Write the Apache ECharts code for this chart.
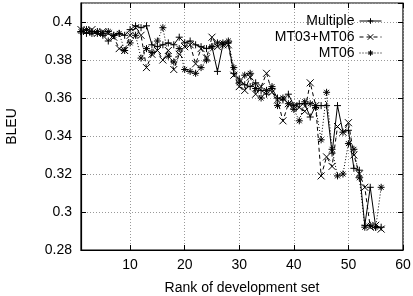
<!DOCTYPE html>
<html>
<head>
<meta charset="utf-8">
<script src="https://cdn.jsdelivr.net/npm/echarts@6/dist/echarts.min.js"></script>
<style>html,body{margin:0;padding:0;background:#fff}#c{width:413px;height:296px}</style>
</head>
<body>
<div id="c"></div>
<script>
const ranks = Array.from({length: 56}, (_, i) => i + 1);
const xTicks = [10, 20, 30, 40, 50, 60];
const seriesNames = ['Multiple', 'MT03+MT06', 'MT06'];
const multiple = [0.395,0.394,0.395,0.394,0.393,0.390,0.393,0.394,0.393,0.396,
  0.398,0.397,0.398,0.388,0.387,0.388,0.389,0.388,0.392,0.389,
  0.390,0.388,0.387,0.386,0.387,0.374,0.388,0.389,0.373,0.370,
  0.367,0.366,0.368,0.364,0.362,0.365,0.360,0.359,0.362,0.356,
  0.357,0.357,0.350,0.356,0.356,0.356,0.331,0.356,0.342,0.343,
  0.323,0.322,0.293,0.313,0.292,0.292];
const mt0306 = [0.396,0.395,0.396,0.394,0.395,0.394,0.392,0.386,0.385,0.393,
  0.397,0.393,0.376,0.383,0.385,0.380,0.385,0.375,0.383,0.387,
  0.388,0.378,0.386,0.381,0.392,0.387,0.388,0.388,0.372,0.366,
  0.364,0.371,0.362,0.366,0.373,0.363,0.359,0.348,0.357,0.356,
  0.355,0.353,0.368,0.356,0.319,0.329,0.324,0.345,0.342,0.347,
  0.330,0.320,0.313,0.292,0.293,0.291];
const mt06 = [0.395,0.396,0.394,0.395,0.394,0.395,0.393,0.394,0.385,0.389,
  0.393,0.381,0.386,0.384,0.390,0.397,0.382,0.379,0.386,0.375,
  0.374,0.373,0.376,0.380,0.387,0.389,0.389,0.390,0.376,0.368,
  0.372,0.373,0.365,0.360,0.364,0.366,0.356,0.360,0.357,0.354,
  0.348,0.358,0.357,0.355,0.338,0.363,0.333,0.319,0.320,0.336,
  0.333,0.318,0.292,0.293,0.292,0.313];

const symPlus = 'path://M0,5L10,5M5,0L5,10';
const symCross = 'path://M1,1L9,9M9,1L1,9';
const symStar = 'path://M0,5L10,5M5,0L5,10M1.5,1.5L8.5,8.5M8.5,1.5L1.5,8.5';
const FONT = 'Liberation Sans';

function mk(name, vals, sym, type) {
  return {
    name: name, type: 'line', data: ranks.map((r, i) => [r, vals[i]]),
    symbol: sym, symbolSize: 7, showSymbol: true,
    lineStyle: {color: '#000', width: 1, type: type},
    itemStyle: {color: '#000', borderColor: '#000', borderWidth: 1},
    emphasis: {disabled: true}, animation: false, z: 3
  };
}

const chart = echarts.init(document.getElementById('c'), null, {renderer: 'canvas'});
chart.setOption({
  animation: false,
  backgroundColor: '#fff',
  textStyle: {fontFamily: FONT},
  grid: {left: 81, right: 10, top: 3, bottom: 46, show: true, borderColor: '#000', borderWidth: 1.2,
    backgroundColor: 'transparent', containLabel: false, outerBoundsMode: 'none'},
  legend: {
    orient: 'vertical', right: 26, top: 9, align: 'right',
    itemWidth: 22, itemHeight: 7, itemGap: 2,
    textStyle: {fontFamily: FONT, fontSize: 14, color: '#000', padding: [0, 0, 0, 0]},
    itemStyle: {borderWidth: 1, borderColor: '#000', color: '#000'},
    lineStyle: {width: 1, color: '#000'},
    data: seriesNames
  },
  xAxis: [{
    type: 'value', min: 1, max: 60,
    name: 'Rank of development set', nameLocation: 'middle', nameGap: 31,
    nameTextStyle: {fontFamily: FONT, fontSize: 14, color: '#000'},
    axisLine: {show: true, onZero: false, lineStyle: {color: '#000', width: 1.2}},
    axisTick: {show: true, inside: true, length: 5, customValues: xTicks, lineStyle: {color: '#000'}},
    axisLabel: {customValues: xTicks, fontFamily: FONT, fontSize: 14, color: '#000', margin: 8},
    splitLine: {show: true, lineStyle: {color: '#999', type: [1, 2], width: 1}}
  }, {
    type: 'value', min: 1, max: 60, position: 'top',
    axisLine: {show: false},
    axisTick: {show: true, inside: true, length: 5, customValues: xTicks, lineStyle: {color: '#000'}},
    axisLabel: {show: false}, splitLine: {show: false}
  }],
  yAxis: [{
    type: 'value', min: 0.28, max: 0.41, interval: 0.02,
    name: 'BLEU', nameLocation: 'middle', nameGap: 62, nameRotate: 90,
    nameTextStyle: {fontFamily: FONT, fontSize: 14, color: '#000'},
    axisLine: {show: true, onZero: false, lineStyle: {color: '#000', width: 1.2}},
    axisTick: {show: true, inside: true, length: 5, lineStyle: {color: '#000'}},
    axisLabel: {fontFamily: FONT, fontSize: 14, color: '#000', margin: 9, showMaxLabel: false},
    splitLine: {show: true, lineStyle: {color: '#999', type: [1, 2], width: 1}}
  }, {
    type: 'value', min: 0.28, max: 0.41, interval: 0.02, position: 'right',
    axisLine: {show: false},
    axisTick: {show: true, inside: true, length: 5, lineStyle: {color: '#000'}},
    axisLabel: {show: false}, splitLine: {show: false}
  }],
  series: [
    mk(seriesNames[0], multiple, symPlus, 'solid'),
    mk(seriesNames[1], mt0306, symCross, [4, 3]),
    mk(seriesNames[2], mt06, symStar, [1, 2])
  ]
});
</script>
</body>
</html>
